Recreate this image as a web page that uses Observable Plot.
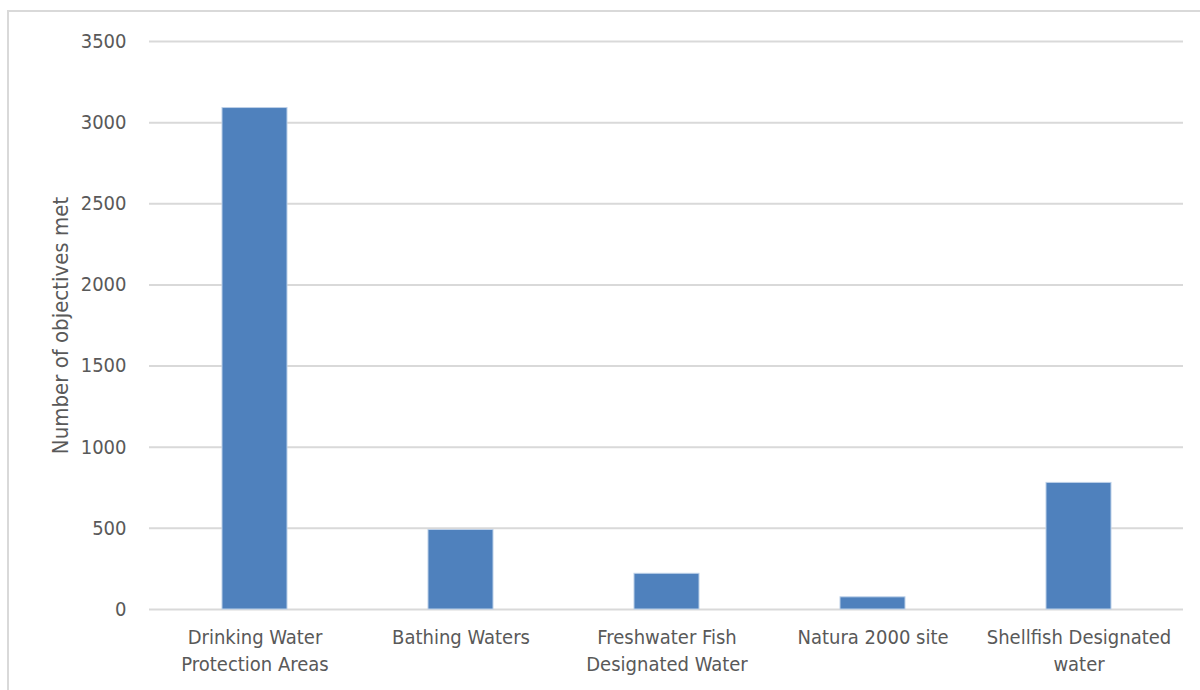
<!DOCTYPE html>
<html>
<head>
<meta charset="utf-8">
<script src="https://cdn.jsdelivr.net/npm/d3@7"></script>
<script src="https://cdn.jsdelivr.net/npm/@observablehq/plot@0.6"></script>
<style>
  html, body { margin: 0; padding: 0; background: #fff; overflow: hidden; }
  #wrap { position: relative; width: 1200px; height: 690px; }
  #border { position: absolute; left: 7px; top: 10px; width: 1300px; height: 800px;
            border: 2px solid #d9d9d9; box-sizing: border-box; pointer-events: none; }
  #chart { position: absolute; left: 0; top: 0; }
</style>
</head>
<body>
<div id="wrap"><div id="chart"></div><div id="border"></div></div>
<script>
const categories = ["Drinking Water Protection Areas", "Bathing Waters", "Freshwater Fish Designated Water", "Natura 2000 site", "Shellfish Designated water"];
const tickLabels = ["Drinking Water\nProtection Areas", "Bathing Waters", "Freshwater Fish\nDesignated Water", "Natura 2000 site", "Shellfish Designated\nwater"];
const values = [3090, 490, 220, 75, 780];
const yTicks = [0, 500, 1000, 1500, 2000, 2500, 3000, 3500];

const data = categories.map((c, i) => ({category: c, value: values[i]}));
const labelOf = new Map(categories.map((c, i) => [c, tickLabels[i]]));

const font = "'DejaVu Sans Condensed', 'Liberation Sans Narrow', sans-serif";

const plot = Plot.plot({
  width: 1200,
  height: 690,
  marginLeft: 149,
  marginRight: 17,
  marginTop: 41,
  marginBottom: 81,
  style: {fontFamily: font, fontSize: "20px", color: "#595959", background: "transparent"},
  x: {domain: categories, paddingInner: 0.686, paddingOuter: 0.343},
  y: {domain: [0, 3500]},
  marks: [
    Plot.gridY(yTicks, {stroke: "#d9d9d9", strokeOpacity: 1, strokeWidth: 2}),
    Plot.barY(data, {x: "category", y: "value", fill: "#4F81BD", stroke: "#bcd0e8", strokeWidth: 1}),
    Plot.axisY(yTicks, {tickSize: 0, tickPadding: 23, label: null, tickFormat: d => String(d), fill: "#595959", fontSize: 20}),
    Plot.axisX({tickSize: 0, tickPadding: 15, label: null, tickFormat: d => labelOf.get(d), lineHeight: 1.35, fill: "#595959", fontSize: 20}),
    Plot.text(["Number of objectives met"], {frameAnchor: "left", textAnchor: "middle", dx: -89, rotate: -90, fill: "#595959", fontSize: 22})
  ]
});
document.getElementById("chart").appendChild(plot);
</script>
</body>
</html>
